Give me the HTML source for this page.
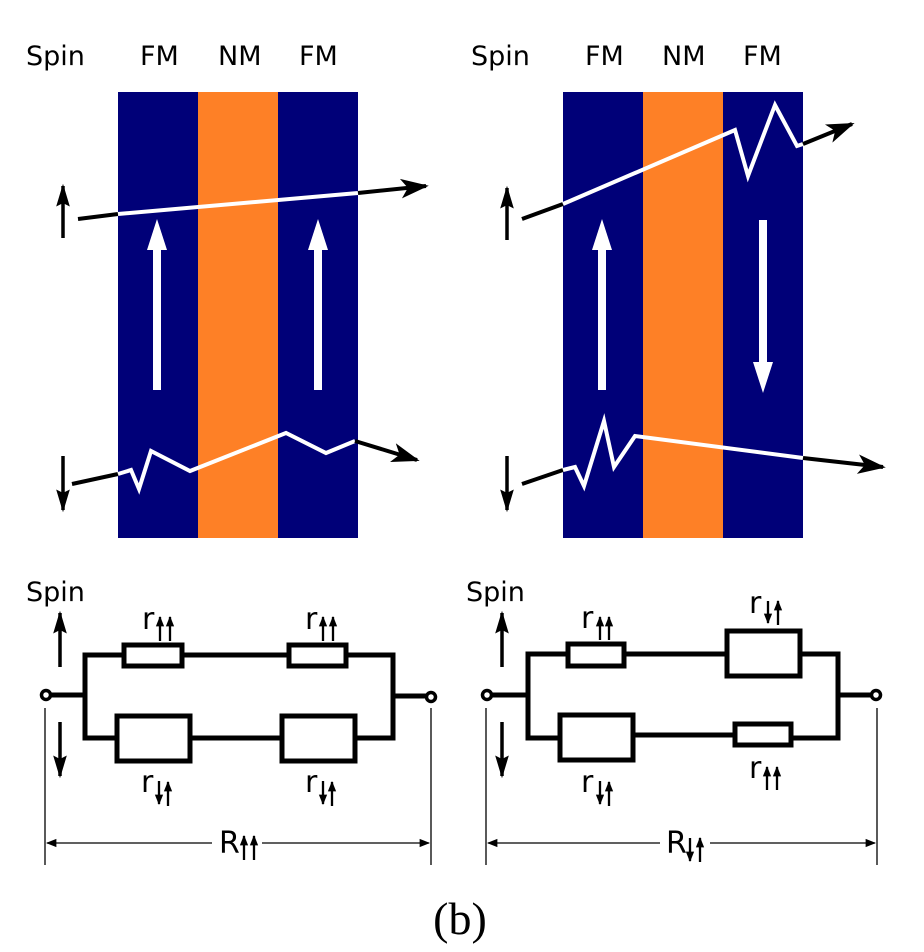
<!DOCTYPE html>
<html><head><meta charset="utf-8"><style>body{margin:0;background:#fff}svg{display:block}</style></head><body>
<svg width="924" height="952" viewBox="0 0 924 952" xmlns="http://www.w3.org/2000/svg" font-family="DejaVu Sans, Liberation Sans, sans-serif">
<defs>
<marker id="ah" viewBox="0 0 10 10" refX="9" refY="5" markerWidth="7" markerHeight="7" orient="auto"><path d="M0,1.5 L10,5 L0,8.5 L2.5,5 z" fill="#000"/></marker>
<marker id="ah3" viewBox="0 0 10 10" refX="9" refY="5" markerWidth="6.5" markerHeight="6.5" orient="auto"><path d="M0,2 L10,5 L0,8 L1.5,5 z" fill="#000"/></marker>
<marker id="sh" viewBox="0 0 10 10" refX="9" refY="5" markerWidth="4.5" markerHeight="4.5" orient="auto"><path d="M0,1 L10,5 L0,9 z" fill="#000"/></marker>
<marker id="dh" viewBox="0 0 10 10" refX="9" refY="5" markerWidth="12" markerHeight="8" orient="auto"><path d="M0,1 L10,5 L0,9 z" fill="#000"/></marker>
</defs>
<g font-size="27" fill="#000">
<text x="26" y="65">Spin</text><text x="140" y="65">FM</text><text x="218" y="65">NM</text><text x="299" y="65">FM</text>
<text x="471" y="65">Spin</text><text x="585" y="65">FM</text><text x="662" y="65">NM</text><text x="743" y="65">FM</text>
</g>
<rect x="118" y="92" width="80" height="446" fill="#000078"/><rect x="198" y="92" width="80" height="446" fill="#fe8026"/><rect x="278" y="92" width="80" height="446" fill="#000078"/>
<rect x="563" y="92" width="80" height="446" fill="#000078"/><rect x="643" y="92" width="80" height="446" fill="#fe8026"/><rect x="723" y="92" width="80" height="446" fill="#000078"/>
<g stroke="#fff" stroke-width="8" fill="#fff">
<line x1="157" y1="390" x2="157" y2="245"/><path d="M147,250 L157,219 L167,250 z" stroke="none"/>
<line x1="318" y1="390" x2="318" y2="245"/><path d="M308,250 L318,219 L328,250 z" stroke="none"/>
<line x1="602" y1="390" x2="602" y2="245"/><path d="M592,250 L602,219 L612,250 z" stroke="none"/>
<line x1="763" y1="220" x2="763" y2="365"/><path d="M753,362 L763,393 L773,362 z" stroke="none"/>
</g>
<g fill="none" stroke-width="4" stroke-linejoin="miter">
<line x1="78" y1="219" x2="118" y2="214" stroke="#000"/>
<polyline points="118,214 358,193" stroke="#fff"/>
<line x1="358" y1="193" x2="426" y2="186" stroke="#000" marker-end="url(#ah)"/>
<line x1="72" y1="484" x2="118" y2="474" stroke="#000"/>
<polyline points="118,474 131,470 139,489 151,451 190,471 286,433 326,453 355,441" stroke="#fff"/>
<line x1="355" y1="441" x2="417" y2="460" stroke="#000" marker-end="url(#ah)"/>
<line x1="522" y1="219" x2="563" y2="204" stroke="#000"/>
<polyline points="563,204 735,130 748,176 775,105 797,146 803,144" stroke="#fff"/>
<line x1="803" y1="144" x2="852" y2="124" stroke="#000" marker-end="url(#ah)"/>
<line x1="522" y1="484" x2="563" y2="470" stroke="#000"/>
<polyline points="563,470 575,467 584,486 604,421 614,467 635,436 803,458" stroke="#fff"/>
<line x1="803" y1="458" x2="883" y2="467" stroke="#000" marker-end="url(#ah)"/>
</g>
<g stroke="#000" stroke-width="3.5" fill="none">
<line x1="63" y1="238" x2="63" y2="186" marker-end="url(#ah3)"/>
<line x1="63" y1="456" x2="63" y2="510" marker-end="url(#ah3)"/>
<line x1="507" y1="240" x2="507" y2="188" marker-end="url(#ah3)"/>
<line x1="507" y1="456" x2="507" y2="510" marker-end="url(#ah3)"/>
<line x1="60" y1="667" x2="60" y2="613" marker-end="url(#ah3)"/>
<line x1="60" y1="722" x2="60" y2="776" marker-end="url(#ah3)"/>
<line x1="502" y1="667" x2="502" y2="613" marker-end="url(#ah3)"/>
<line x1="502" y1="722" x2="502" y2="776" marker-end="url(#ah3)"/>
</g>
<text x="26" y="601" font-size="27">Spin</text>
<text x="466" y="601" font-size="27">Spin</text>
<g stroke="#000" stroke-width="5" fill="none">
<polyline points="51,695 85,695"/>
<polyline points="124,655 85,655 85,738 117,738"/>
<polyline points="182,655 289,655"/>
<polyline points="346,655 393,655 393,738 355,738"/>
<polyline points="190,738 282,738"/>
<polyline points="393,696 426,696"/>
<rect x="124" y="645" width="58" height="21" fill="#fff"/>
<rect x="289" y="645" width="57" height="21" fill="#fff"/>
<rect x="117" y="716" width="73" height="45" fill="#fff"/>
<rect x="282" y="716" width="73" height="45" fill="#fff"/>
<circle cx="46" cy="695" r="4.5" stroke-width="3.5" fill="#fff"/>
<circle cx="431" cy="697" r="4.5" stroke-width="3.5" fill="#fff"/>
</g>
<g stroke="#000" stroke-width="5" fill="none">
<polyline points="492,695 528,695"/>
<polyline points="568,654 528,654 528,738 560,738"/>
<polyline points="624,654 727,654"/>
<polyline points="800,654 838,654 838,738 791,738"/>
<polyline points="633,735 735,735"/>
<polyline points="838,695 871,695"/>
<rect x="568" y="644" width="56" height="22" fill="#fff"/>
<rect x="727" y="631" width="73" height="45" fill="#fff"/>
<rect x="560" y="715" width="73" height="45" fill="#fff"/>
<rect x="735" y="724" width="56" height="21" fill="#fff"/>
<circle cx="487" cy="695" r="4.5" stroke-width="3.5" fill="#fff"/>
<circle cx="876" cy="695" r="4.5" stroke-width="3.5" fill="#fff"/>
</g>
<g stroke="#000" stroke-width="1.3" fill="none">
<line x1="45" y1="708" x2="45" y2="865"/><line x1="431" y1="708" x2="431" y2="865"/>
<line x1="212" y1="843" x2="47" y2="843" marker-end="url(#dh)"/><line x1="262" y1="843" x2="429" y2="843" marker-end="url(#dh)"/>
<line x1="486" y1="708" x2="486" y2="865"/><line x1="877" y1="708" x2="877" y2="865"/>
<line x1="660" y1="843" x2="488" y2="843" marker-end="url(#dh)"/><line x1="710" y1="843" x2="875" y2="843" marker-end="url(#dh)"/>
</g>
<g font-size="30" fill="#000">
<text x="142" y="629">r</text><text x="305" y="629">r</text>
<text x="141" y="792">r</text><text x="305" y="792">r</text>
<text x="581" y="628">r</text><text x="749" y="613">r</text>
<text x="581" y="792">r</text><text x="749" y="778">r</text>
<text x="219" y="853">R</text><text x="666" y="853">R</text>
</g>
<g stroke="#000" stroke-width="2.3" fill="none">
<line x1="160" y1="641" x2="160" y2="617" marker-end="url(#sh)"/><line x1="170" y1="641" x2="170" y2="617" marker-end="url(#sh)"/>
<line x1="323" y1="641" x2="323" y2="617" marker-end="url(#sh)"/><line x1="333" y1="641" x2="333" y2="617" marker-end="url(#sh)"/>
<line x1="159" y1="781" x2="159" y2="804" marker-end="url(#sh)"/><line x1="168" y1="806" x2="168" y2="782" marker-end="url(#sh)"/>
<line x1="323" y1="781" x2="323" y2="804" marker-end="url(#sh)"/><line x1="332" y1="806" x2="332" y2="782" marker-end="url(#sh)"/>
<line x1="244" y1="860" x2="244" y2="836" marker-end="url(#sh)"/><line x1="254" y1="860" x2="254" y2="836" marker-end="url(#sh)"/>
<line x1="600" y1="640" x2="600" y2="617" marker-end="url(#sh)"/><line x1="609" y1="640" x2="609" y2="617" marker-end="url(#sh)"/>
<line x1="768" y1="601" x2="768" y2="623" marker-end="url(#sh)"/><line x1="778" y1="625" x2="778" y2="601" marker-end="url(#sh)"/>
<line x1="600" y1="781" x2="600" y2="804" marker-end="url(#sh)"/><line x1="609" y1="806" x2="609" y2="782" marker-end="url(#sh)"/>
<line x1="767" y1="790" x2="767" y2="767" marker-end="url(#sh)"/><line x1="777" y1="790" x2="777" y2="767" marker-end="url(#sh)"/>
<line x1="690" y1="838" x2="690" y2="861" marker-end="url(#sh)"/><line x1="700" y1="862" x2="700" y2="838" marker-end="url(#sh)"/>
</g>
<text x="460" y="934" font-size="46" font-family="Liberation Serif, serif" text-anchor="middle">(b)</text>
</svg>
</body></html>
